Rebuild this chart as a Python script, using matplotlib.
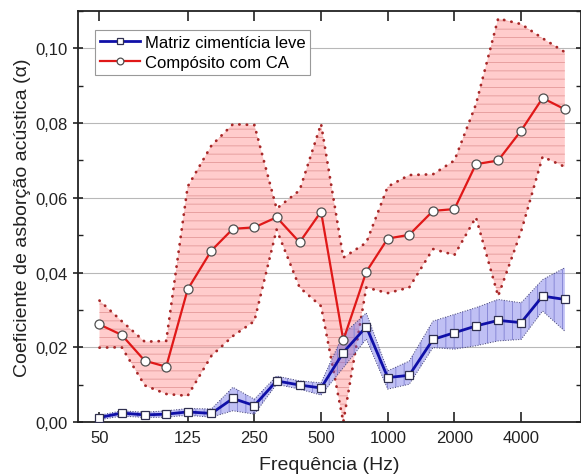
import matplotlib
matplotlib.use('Agg')
import matplotlib.pyplot as plt
from matplotlib.ticker import FixedLocator, MultipleLocator, FuncFormatter, NullLocator

plt.rcParams['font.family'] = ['Liberation Sans', 'DejaVu Sans']
plt.rcParams['hatch.linewidth'] = 0.7

# bandas de 1/3 de oitava
freq = [50, 63, 80, 100, 125, 160, 200, 250, 315, 400, 500, 630,
        800, 1000, 1250, 1600, 2000, 2500, 3150, 4000, 5000, 6300]

# Matriz cimenticia leve (media, limite superior, limite inferior)
matriz = [0.0012, 0.0024, 0.0019, 0.0021, 0.0027, 0.0023, 0.0063, 0.0044, 0.0110, 0.0099, 0.0091,
          0.0186, 0.0255, 0.0119, 0.0125, 0.0221, 0.0239, 0.0257, 0.0272, 0.0266, 0.0337, 0.0328]
matriz_sup = [0.0018, 0.0030, 0.0026, 0.0030, 0.0036, 0.0035, 0.0093, 0.0061, 0.0123, 0.0110, 0.0105,
              0.0235, 0.0292, 0.0137, 0.0163, 0.0270, 0.0288, 0.0306, 0.0328, 0.0319, 0.0381, 0.0413]
matriz_inf = [0.0006, 0.0016, 0.0012, 0.0013, 0.0018, 0.0013, 0.0030, 0.0021, 0.0101, 0.0088, 0.0072,
              0.0145, 0.0222, 0.0088, 0.0101, 0.0199, 0.0195, 0.0204, 0.0217, 0.0221, 0.0297, 0.0243]

# Composito com CA
composito = [0.0261, 0.0233, 0.0164, 0.0148, 0.0355, 0.0459, 0.0517, 0.0521, 0.0548, 0.0481, 0.0563,
             0.0219, 0.0402, 0.0491, 0.0501, 0.0565, 0.0570, 0.0690, 0.0700, 0.0780, 0.0867, 0.0837]
comp_sup = [0.0325, 0.0270, 0.0215, 0.0217, 0.0630, 0.0740, 0.0797, 0.0795, 0.0571, 0.0620, 0.0798,
            0.0440, 0.0480, 0.0630, 0.0661, 0.0663, 0.0700, 0.0850, 0.1080, 0.1065, 0.1027, 0.0990]
comp_inf = [0.0199, 0.0200, 0.0098, 0.0075, 0.0070, 0.0177, 0.0230, 0.0270, 0.0515, 0.0360, 0.0310,
            0.0000, 0.0360, 0.0345, 0.0360, 0.0463, 0.0447, 0.0548, 0.0337, 0.0510, 0.0710, 0.0683]

xticks = [50, 125, 250, 500, 1000, 2000, 4000]

fig = plt.figure(figsize=(5.81, 4.77), dpi=100)
ax = fig.add_axes([0.1343, 0.1132, 0.865, 0.8616])
ax.set_xscale('log')

# faixa do composito
ax.fill_between(freq, comp_inf, comp_sup, facecolor='#ff9a9a', alpha=0.5, lw=0, zorder=1)
ax.fill_between(freq, comp_inf, comp_sup, facecolor='none', edgecolor='#e8a0a0', hatch='--', lw=0, zorder=1.1)
for borda in (comp_sup, comp_inf):
    ax.plot(freq, borda, color='#a82828', lw=2, linestyle=(0, (0.1, 2.6)),
            dash_capstyle='round', zorder=1.2)

# faixa da matriz
ax.fill_between(freq, matriz_inf, matriz_sup, facecolor='#6a6ae6', alpha=0.42, lw=0, zorder=1.5)
ax.fill_between(freq, matriz_inf, matriz_sup, facecolor='none', edgecolor='#8a8ad8', hatch='||', lw=0, zorder=1.6)
for borda in (matriz_sup, matriz_inf):
    ax.plot(freq, borda, color='#404070', lw=0.7, linestyle=':', zorder=1.7)

l1, = ax.plot(freq, matriz, color='#1010a8', lw=2, marker='s', ms=6, mfc='white',
              mec='#303050', mew=0.9, zorder=3, label='Matriz cimentícia leve')
l2, = ax.plot(freq, composito, color='#e01818', lw=1.6, marker='o', ms=6.5, mfc='white',
              mec='#505050', mew=0.9, zorder=3.5, label='Compósito com CA')

ax.set_xlim(40, 7420)
ax.set_ylim(0, 0.11)

ax.xaxis.set_major_locator(FixedLocator(xticks))
ax.xaxis.set_minor_locator(NullLocator())
ax.set_xticklabels([str(t) for t in xticks])
ax.yaxis.set_major_locator(MultipleLocator(0.02))
ax.yaxis.set_minor_locator(MultipleLocator(0.01))
ax.yaxis.set_major_formatter(FuncFormatter(lambda v, p: f'{v:.2f}'.replace('.', ',')))

ax.grid(axis='y', which='major', color='#b8b8b8', lw=0.8, zorder=0)
ax.set_axisbelow(True)

ax.tick_params(axis='x', which='major', direction='in', length=7, width=1.2, top=True,
               labelsize=12, pad=6, colors='#222222')
ax.tick_params(axis='y', which='major', direction='inout', length=7, width=1.2, right=True,
               labelsize=12, pad=4, colors='#222222')
ax.tick_params(axis='y', which='minor', direction='in', length=3.5, width=1.0, right=True,
               colors='#222222')
for s in ax.spines.values():
    s.set_linewidth(1.3)
    s.set_color('#222222')

ax.set_xlabel('Frequência (Hz)', fontsize=14, color='#222222', labelpad=8)
ax.set_ylabel('Coeficiente de asborção acústica (\u03b1)', fontsize=14, color='#222222', labelpad=3)

leg = ax.legend(handles=[l1, l2], loc='upper left', bbox_to_anchor=(0.033, 0.955),
                borderaxespad=0, fancybox=False, framealpha=1, edgecolor='#999999',
                fontsize=12, handlelength=2.4, handletextpad=0.3, labelspacing=0.3,
                borderpad=0.3, markerscale=0.75)
leg.get_frame().set_linewidth(0.8)

fig.savefig('out.png', dpi=100)
